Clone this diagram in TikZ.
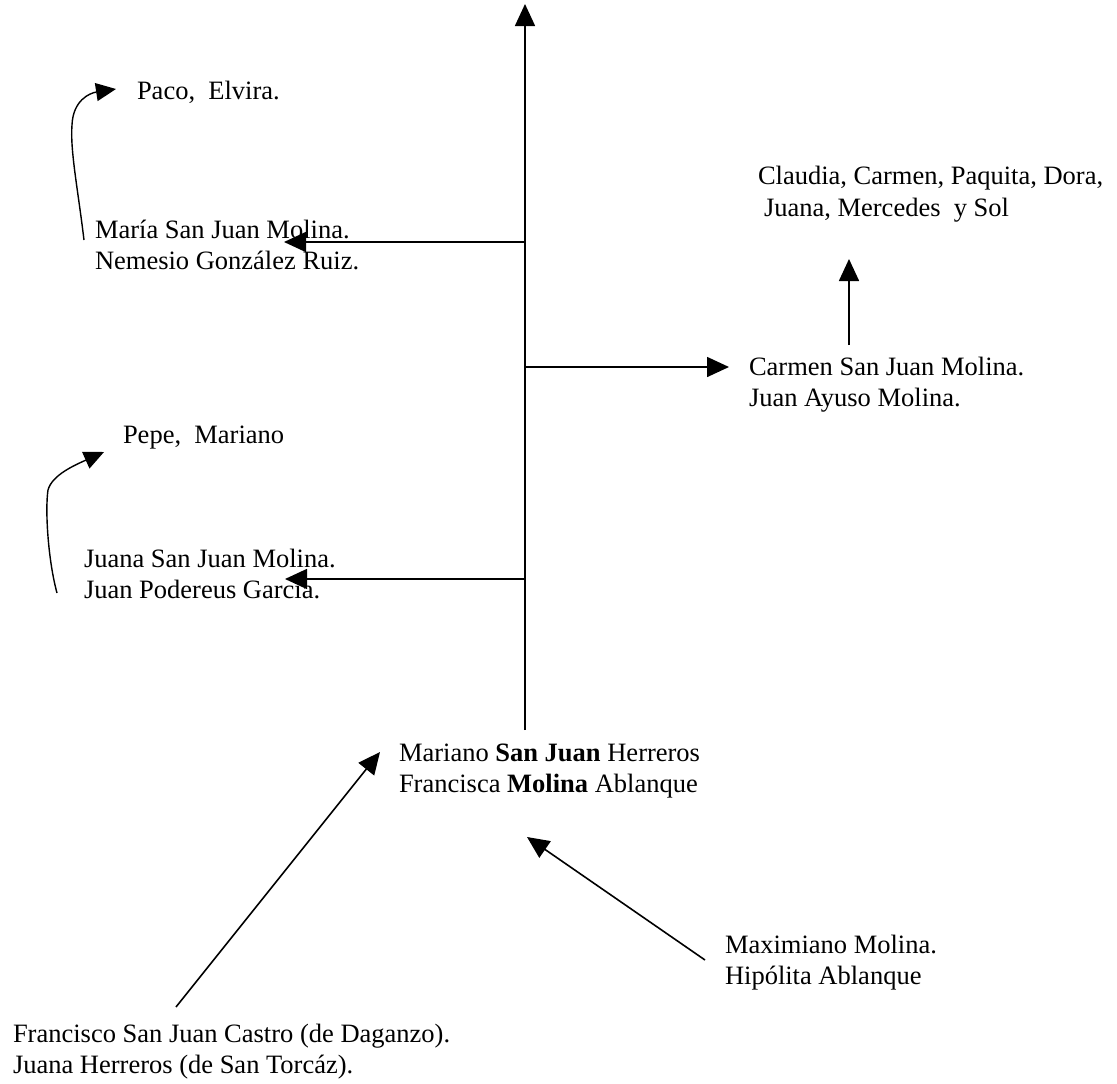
\documentclass[tikz,border=0pt]{standalone}
\usepackage{fontspec}
\setmainfont{Liberation Serif}
\usetikzlibrary{arrows.meta}
\begin{document}
\begin{tikzpicture}[x=1pt,y=-1pt,
  lbl/.style={anchor=base west,inner sep=0pt,outer sep=0pt,font=\fontsize{26.5pt}{31pt}\selectfont},
  conn/.style={line width=1.6pt,-{Triangle[length=22pt,width=20pt]}},
  curv/.style={line width=1.4pt,-{Triangle[length=20pt,width=18pt]}}]
\useasboundingbox (0,0) rectangle (1117,1084);
% texts
\node[lbl] (paco) at (137,99) {Paco,\ \ Elvira.};
\node[lbl] (maria1) at (95,238) {María San Juan Molina.};
\node[lbl] (maria2) at (95,269) {Nemesio González Ruiz.};
\node[lbl] (hijas1) at (758,184) {Claudia, Carmen, Paquita, Dora,};
\node[lbl] (hijas2) at (764,216) {Juana, Mercedes\ \ y Sol};
\node[lbl] (carmen1) at (749,375) {Carmen San Juan Molina.};
\node[lbl] (carmen2) at (749,406) {Juan Ayuso Molina.};
\node[lbl] (pepe) at (123,443) {Pepe,\ \ Mariano};
\node[lbl] (juana1) at (84,567) {Juana San Juan Molina.};
\node[lbl] (juana2) at (84,598) {Juan Podereus Garcia.};
\node[lbl] (mariano1) at (399,761) {Mariano \textbf{San Juan} Herreros};
\node[lbl] (mariano2) at (399,792) {Francisca \textbf{Molina} Ablanque};
\node[lbl] (maxi1) at (725,953) {Maximiano Molina.};
\node[lbl] (maxi2) at (725,984) {Hipólita Ablanque};
\node[lbl] (fran1) at (13,1042) {Francisco San Juan Castro (de Daganzo).};
\node[lbl] (fran2) at (13,1073) {Juana Herreros (de San Torcáz).};
% coordinates
\coordinate (trunkB) at (525,730);
\coordinate (trunkT) at (525,4);
\coordinate (jM) at (525,242);
\coordinate (jC) at (525,367);
\coordinate (jJ) at (525,579);
\coordinate (tM) at (284,242);
\coordinate (tC) at (729,367);
\coordinate (tJ) at (285,579);
\coordinate (cUp0) at (849,345);
\coordinate (cUp1) at (849,259);
\coordinate (fS) at (176,1007);
\coordinate (fT) at (380,752);
\coordinate (mS) at (705,960);
\coordinate (mT) at (527,837);
\coordinate (p0) at (84,240);
\coordinate (p1) at (116,89);
\coordinate (q0) at (57,593);
\coordinate (q1) at (104,452);
% connectors
\draw[conn] (trunkB) -- (trunkT);
\draw[conn] (jM) -- (tM);
\draw[conn] (jC) -- (tC);
\draw[conn] (jJ) -- (tJ);
\draw[conn] (cUp0) -- (cUp1);
\draw[conn] (fS) -- (fT);
\draw[conn] (mS) -- (mT);
\draw[curv] (p0) .. controls (78,190) and (70,150) .. (72,125) .. controls (73,100) and (90,93) .. (p1);
\draw[curv] (q0) .. controls (48,560) and (45,510) .. (48,490) .. controls (52,475) and (75,465) .. (q1);
\end{tikzpicture}
\end{document}
